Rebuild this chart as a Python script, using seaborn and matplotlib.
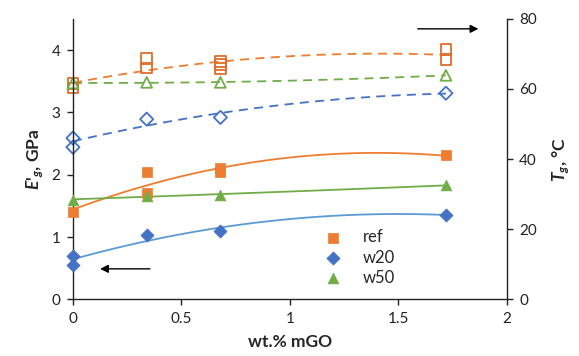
import numpy as np
import pandas as pd
import matplotlib
matplotlib.use("Agg")
import matplotlib.pyplot as plt
import seaborn as sns

# Storage modulus E'g (GPa) vs. mGO loading
ref_x = [0, 0.34, 0.34, 0.68, 0.68, 1.72]
ref_E = [1.40, 2.05, 1.71, 2.10, 2.05, 2.31]
w20_x = [0, 0, 0.34, 0.68, 1.72]
w20_E = [0.70, 0.55, 1.03, 1.09, 1.36]
w50_x = [0, 0.34, 0.68, 1.72]
w50_E = [1.60, 1.66, 1.68, 1.83]

# Glass transition temperature Tg (°C) vs. mGO loading
ref_tx = [0, 0, 0.34, 0.34, 0.68, 0.68, 0.68, 1.72, 1.72]
ref_T = [61.5, 60.3, 68.8, 66.0, 67.8, 66.9, 65.9, 71.3, 68.4]
w20_tx = [0, 0, 0.34, 0.68, 1.72]
w20_T = [46.0, 43.4, 51.4, 51.9, 58.8]
w50_tx = [0, 0.34, 0.68, 1.72]
w50_T = [61.7, 61.9, 61.9, 63.9]

series = ["ref", "w20", "w50"]
x_ticks = [0, 0.5, 1, 1.5, 2]
e_ticks = [0, 1, 2, 3, 4]
t_ticks = [0, 20, 40, 60, 80]

colors = {"ref": "#ED7D31", "w20": "#4472C4", "w50": "#70AD47"}
open_colors = {"ref": "#DF6E2A", "w20": "#4472C4", "w50": "#70AD47"}
fit_colors = {"ref": "#ED7D31", "w20": "#5B9BD5", "w50": "#70AD47"}
markers = {"ref": "s", "w20": "D", "w50": "^"}

mod = pd.concat([
    pd.DataFrame({"x": ref_x, "y": ref_E, "s": "ref"}),
    pd.DataFrame({"x": w20_x, "y": w20_E, "s": "w20"}),
    pd.DataFrame({"x": w50_x, "y": w50_E, "s": "w50"}),
], ignore_index=True)
tg = pd.concat([
    pd.DataFrame({"x": ref_tx, "y": ref_T, "s": "ref"}),
    pd.DataFrame({"x": w20_tx, "y": w20_T, "s": "w20"}),
    pd.DataFrame({"x": w50_tx, "y": w50_T, "s": "w50"}),
], ignore_index=True)

sns.set_style("ticks")
plt.rcParams["font.family"] = ["Lato", "DejaVu Sans"]
plt.rcParams["mathtext.fontset"] = "custom"
plt.rcParams["mathtext.it"] = "Lato:italic:bold"
plt.rcParams["mathtext.rm"] = "Lato:bold"
plt.rcParams["mathtext.bf"] = "Lato:bold"

fig = plt.figure(figsize=(5.79, 3.56), dpi=100)
ax = fig.add_axes([0.126, 0.159, 0.749, 0.788])
ax2 = ax.twinx()

# Open markers + dashed quadratic trends on the Tg axis
for s in series:
    d = tg[tg.s == s]
    sns.regplot(data=d, x="x", y="y", order=2, ci=None, scatter=False, ax=ax2,
                color=colors[s],
                line_kws={"lw": 1.3, "ls": (0, (5, 3.5))})
    sns.scatterplot(data=d, x="x", y="y", ax=ax2, marker=markers[s],
                    s=60 if s != "w20" else 45, facecolor="none",
                    edgecolor=open_colors[s], linewidth=1.3, zorder=3,
                    clip_on=False)

# Filled markers + solid quadratic trends on the modulus axis
for s in series:
    d = mod[mod.s == s]
    sns.regplot(data=d, x="x", y="y", order=2, ci=None, scatter=False, ax=ax,
                color=fit_colors[s], line_kws={"lw": 1.3})
    sns.scatterplot(data=d, x="x", y="y", ax=ax, marker=markers[s],
                    s=60 if s != "w20" else 45, color=colors[s],
                    edgecolor=colors[s], linewidth=0.5, label=s, zorder=3,
                    clip_on=False)

ax.set_xlim(0, 2)
ax.set_ylim(0, 4.5)
ax2.set_ylim(0, 80)
ax.set_xticks(x_ticks)
ax.set_xticklabels([f"{v:g}" for v in x_ticks])
ax.set_yticks(e_ticks)
ax2.set_yticks(t_ticks)

for a in (ax, ax2):
    a.tick_params(labelsize=11, length=4, width=1, color="#222222",
                  labelcolor="#222222", pad=5)
    for sp in a.spines.values():
        sp.set_color("#222222")
        sp.set_linewidth(1)
ax.spines["top"].set_visible(False)
ax.spines["right"].set_visible(False)
ax2.spines["top"].set_visible(False)
ax2.spines["left"].set_visible(False)
ax2.spines["bottom"].set_visible(False)

ax.set_xlabel("wt.% mGO", fontsize=12.5, fontweight="bold", labelpad=6)
ax.set_ylabel(r"$E$'$_{g}$, GPa", fontsize=12.5, fontweight="bold", labelpad=4)
ax2.set_ylabel(r"$T_{g}$, °C", fontsize=12.5, fontweight="bold", labelpad=10)

# Arrows pointing each data group to its axis
ax.annotate("", xy=(0.125, 0.49), xytext=(0.355, 0.49),
            arrowprops=dict(arrowstyle="-|>", color="black", lw=1,
                            mutation_scale=12, shrinkA=0, shrinkB=0))
ax.annotate("", xy=(1.87, 4.34), xytext=(1.59, 4.34),
            arrowprops=dict(arrowstyle="-|>", color="black", lw=1,
                            mutation_scale=12, shrinkA=0, shrinkB=0))

ax.legend(loc="lower left", bbox_to_anchor=(0.545, 0.025), frameon=False,
          fontsize=12, handletextpad=0.8, labelspacing=0.25,
          borderaxespad=0, markerscale=1.0)
ax.set_zorder(ax2.get_zorder() + 1)
ax.patch.set_visible(False)

fig.savefig("out.png", dpi=100)
